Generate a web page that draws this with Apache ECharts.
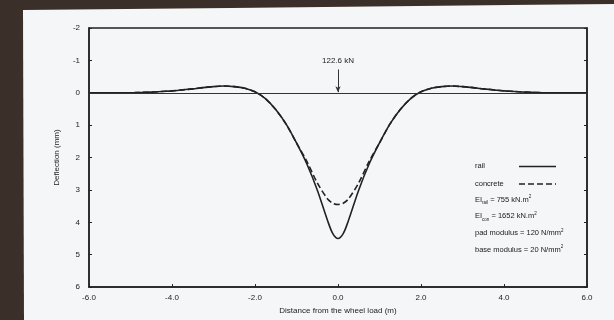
<!DOCTYPE html>
<html>
<head>
<meta charset="utf-8">
<script src="https://cdn.jsdelivr.net/npm/echarts@6/dist/echarts.min.js"></script>
<style>
  html, body { margin: 0; padding: 0; background: #3a2f29; }
  #wrap { position: relative; width: 614px; height: 320px; overflow: hidden; }
  #page { position: absolute; left: 0; top: 0; width: 614px; height: 320px; background: #f5f6f8;
          clip-path: polygon(23px 10px, 614px 4px, 614px 320px, 24px 320px); }
  #chart { position: absolute; left: 0; top: 0; width: 614px; height: 320px; }
</style>
</head>
<body>
<div id="wrap"><div id="page"></div><div id="chart"></div></div>
<script>
// Distance from the wheel load (m)
var distance = [-6, -5.75, -5.5, -5.25, -5, -4.75, -4.5, -4.25, -4, -3.75, -3.5, -3.25, -3, -2.75, -2.5, -2.25, -2, -1.75, -1.5, -1.25, -1, -0.75, -0.5, -0.25, -0.125, 0,
                0.125, 0.25, 0.5, 0.75, 1, 1.25, 1.5, 1.75, 2, 2.25, 2.5, 2.75, 3, 3.25, 3.5, 3.75, 4, 4.25, 4.5, 4.75, 5, 5.25, 5.5, 5.75, 6];
// Deflection (mm) – rail
var railDeflection = [0, 0, 0, 0, 0, -0.01, -0.02, -0.04, -0.06, -0.09, -0.12, -0.16, -0.19, -0.21, -0.19, -0.14, -0.03, 0.18, 0.52, 0.97, 1.55, 2.2, 3.0, 3.95, 4.35, 4.5,
                      4.35, 3.95, 3.0, 2.2, 1.55, 0.97, 0.52, 0.18, -0.03, -0.14, -0.19, -0.21, -0.19, -0.16, -0.12, -0.09, -0.06, -0.04, -0.02, -0.01, 0, 0, 0, 0, 0];
// Deflection (mm) – concrete
var concreteDeflection = [0, 0, 0, 0, 0, -0.01, -0.02, -0.04, -0.06, -0.09, -0.12, -0.16, -0.19, -0.21, -0.19, -0.14, -0.03, 0.18, 0.52, 0.97, 1.55, 2.12, 2.78, 3.28, 3.41, 3.45,
                          3.41, 3.28, 2.78, 2.12, 1.55, 0.97, 0.52, 0.18, -0.03, -0.14, -0.19, -0.21, -0.19, -0.16, -0.12, -0.09, -0.06, -0.04, -0.02, -0.01, 0, 0, 0, 0, 0];
var seriesNames = ['rail', 'concrete'];
var loadLabel = '122.6 kN';
var loadAt = 0;
var xTicks = { min: -6, max: 6, interval: 2 };
var yTicks = { min: -2, max: 6, interval: 1 };
var paramLines = [
  'EI{s|rail} = 755 kN.m{p|2}',
  'EI{s|con} = 1652 kN.m{p|2}',
  'pad modulus = 120 N/mm{p|2}',
  'base modulus = 20 N/mm{p|2}'
];

function pairs(xs, ys) { return xs.map(function (x, i) { return [x, ys[i]]; }); }

var FONT = '"Liberation Sans", Arial, sans-serif';
var INK = '#222';
var TXT = '#1a1a1a';
var DASH = [6, 3];
var chart = echarts.init(document.getElementById('chart'), null, { renderer: 'canvas' });

var richSub = {
  s: { fontSize: 4.5, fontFamily: FONT, fill: TXT, verticalAlign: 'bottom', lineHeight: 11 },
  p: { fontSize: 4.5, fontFamily: FONT, fill: TXT, verticalAlign: 'top', lineHeight: 11 }
};

// legend key (rail / concrete)
var keyStyles = [null, DASH];
var graphics = [];
seriesNames.forEach(function (t, i) {
  graphics.push({
    type: 'text', left: 475, top: 160.5 + i * 17.5,
    style: { text: t, font: '7.5px ' + FONT, fill: TXT, lineHeight: 11 }
  });
  graphics.push({
    type: 'line', shape: { x1: 519, y1: 166.5 + i * 17.5, x2: 556, y2: 166.5 + i * 17.5 },
    style: { stroke: INK, lineWidth: 1.4, lineDash: keyStyles[i] }
  });
});
paramLines.forEach(function (t, i) {
  graphics.push({
    type: 'text', left: 475, top: 194 + i * 16.9,
    style: { text: t, font: '7.5px ' + FONT, fill: TXT, rich: richSub, lineHeight: 11 }
  });
});

chart.setOption({
  backgroundColor: 'transparent',
  animation: false,
  textStyle: { fontFamily: FONT },
  grid: { left: 89, right: 27, top: 28, bottom: 30, show: true, borderColor: INK, borderWidth: 1.5, backgroundColor: 'transparent' },
  xAxis: {
    type: 'value', min: xTicks.min, max: xTicks.max, interval: xTicks.interval,
    name: 'Distance from the wheel load (m)', nameLocation: 'middle', nameGap: 18,
    nameTextStyle: { fontSize: 8, color: INK, fontFamily: FONT },
    axisLine: { show: true, onZero: false, lineStyle: { color: INK, width: 1.5 } },
    axisTick: { show: true, inside: true, length: 3, lineStyle: { color: INK } },
    axisLabel: { fontSize: 8, color: INK, margin: 7, formatter: function (v) { return v.toFixed(1); } },
    splitLine: { show: false }
  },
  yAxis: [{
    type: 'value', inverse: true, min: yTicks.min, max: yTicks.max, interval: yTicks.interval,
    name: 'Deflection (mm)', nameLocation: 'middle', nameGap: 28,
    nameTextStyle: { fontSize: 8, color: INK, fontFamily: FONT },
    axisLine: { show: true, onZero: false, lineStyle: { color: INK, width: 1.5 } },
    axisTick: { show: true, inside: true, length: 3, lineStyle: { color: INK } },
    axisLabel: { fontSize: 8, color: INK, margin: 9 },
    splitLine: { show: false }
  }, {
    type: 'value', inverse: true, min: yTicks.min, max: yTicks.max, interval: yTicks.interval, position: 'right',
    axisLine: { show: true, onZero: false, lineStyle: { color: INK, width: 1.5 } },
    axisTick: { show: true, inside: true, length: 3, lineStyle: { color: INK } },
    axisLabel: { show: false }, splitLine: { show: false }
  }],
  graphic: graphics,
  series: [{
    name: seriesNames[0], type: 'line', data: pairs(distance, railDeflection),
    showSymbol: false, symbol: 'none', smooth: 0.3,
    lineStyle: { color: INK, width: 1.6, type: 'solid' }, itemStyle: { color: INK },
    markLine: {
      silent: true, animation: false,
      label: { show: false },
      lineStyle: { color: '#333', width: 1, type: 'solid' },
      data: [
        [{ coord: [xTicks.min, 0], symbol: 'none' }, { coord: [xTicks.max, 0], symbol: 'none' }],
        [{ coord: [loadAt, -0.72], symbol: 'none' },
         { coord: [loadAt, -0.02], symbol: 'arrow', symbolSize: [4, 6] }]
      ]
    },
    markPoint: {
      silent: true, animation: false,
      symbol: 'rect', symbolSize: 1, itemStyle: { color: 'rgba(0,0,0,0)' },
      label: { show: true, position: 'inside', formatter: loadLabel, fontSize: 8, color: INK, fontFamily: FONT },
      data: [{ coord: [loadAt, -0.99] }]
    },
    z: 3
  }, {
    name: seriesNames[1], type: 'line', data: pairs(distance, concreteDeflection),
    showSymbol: false, symbol: 'none', smooth: 0.3,
    lineStyle: { color: INK, width: 1.6, type: DASH }, itemStyle: { color: INK },
    z: 3
  }]
});
</script>
</body>
</html>
